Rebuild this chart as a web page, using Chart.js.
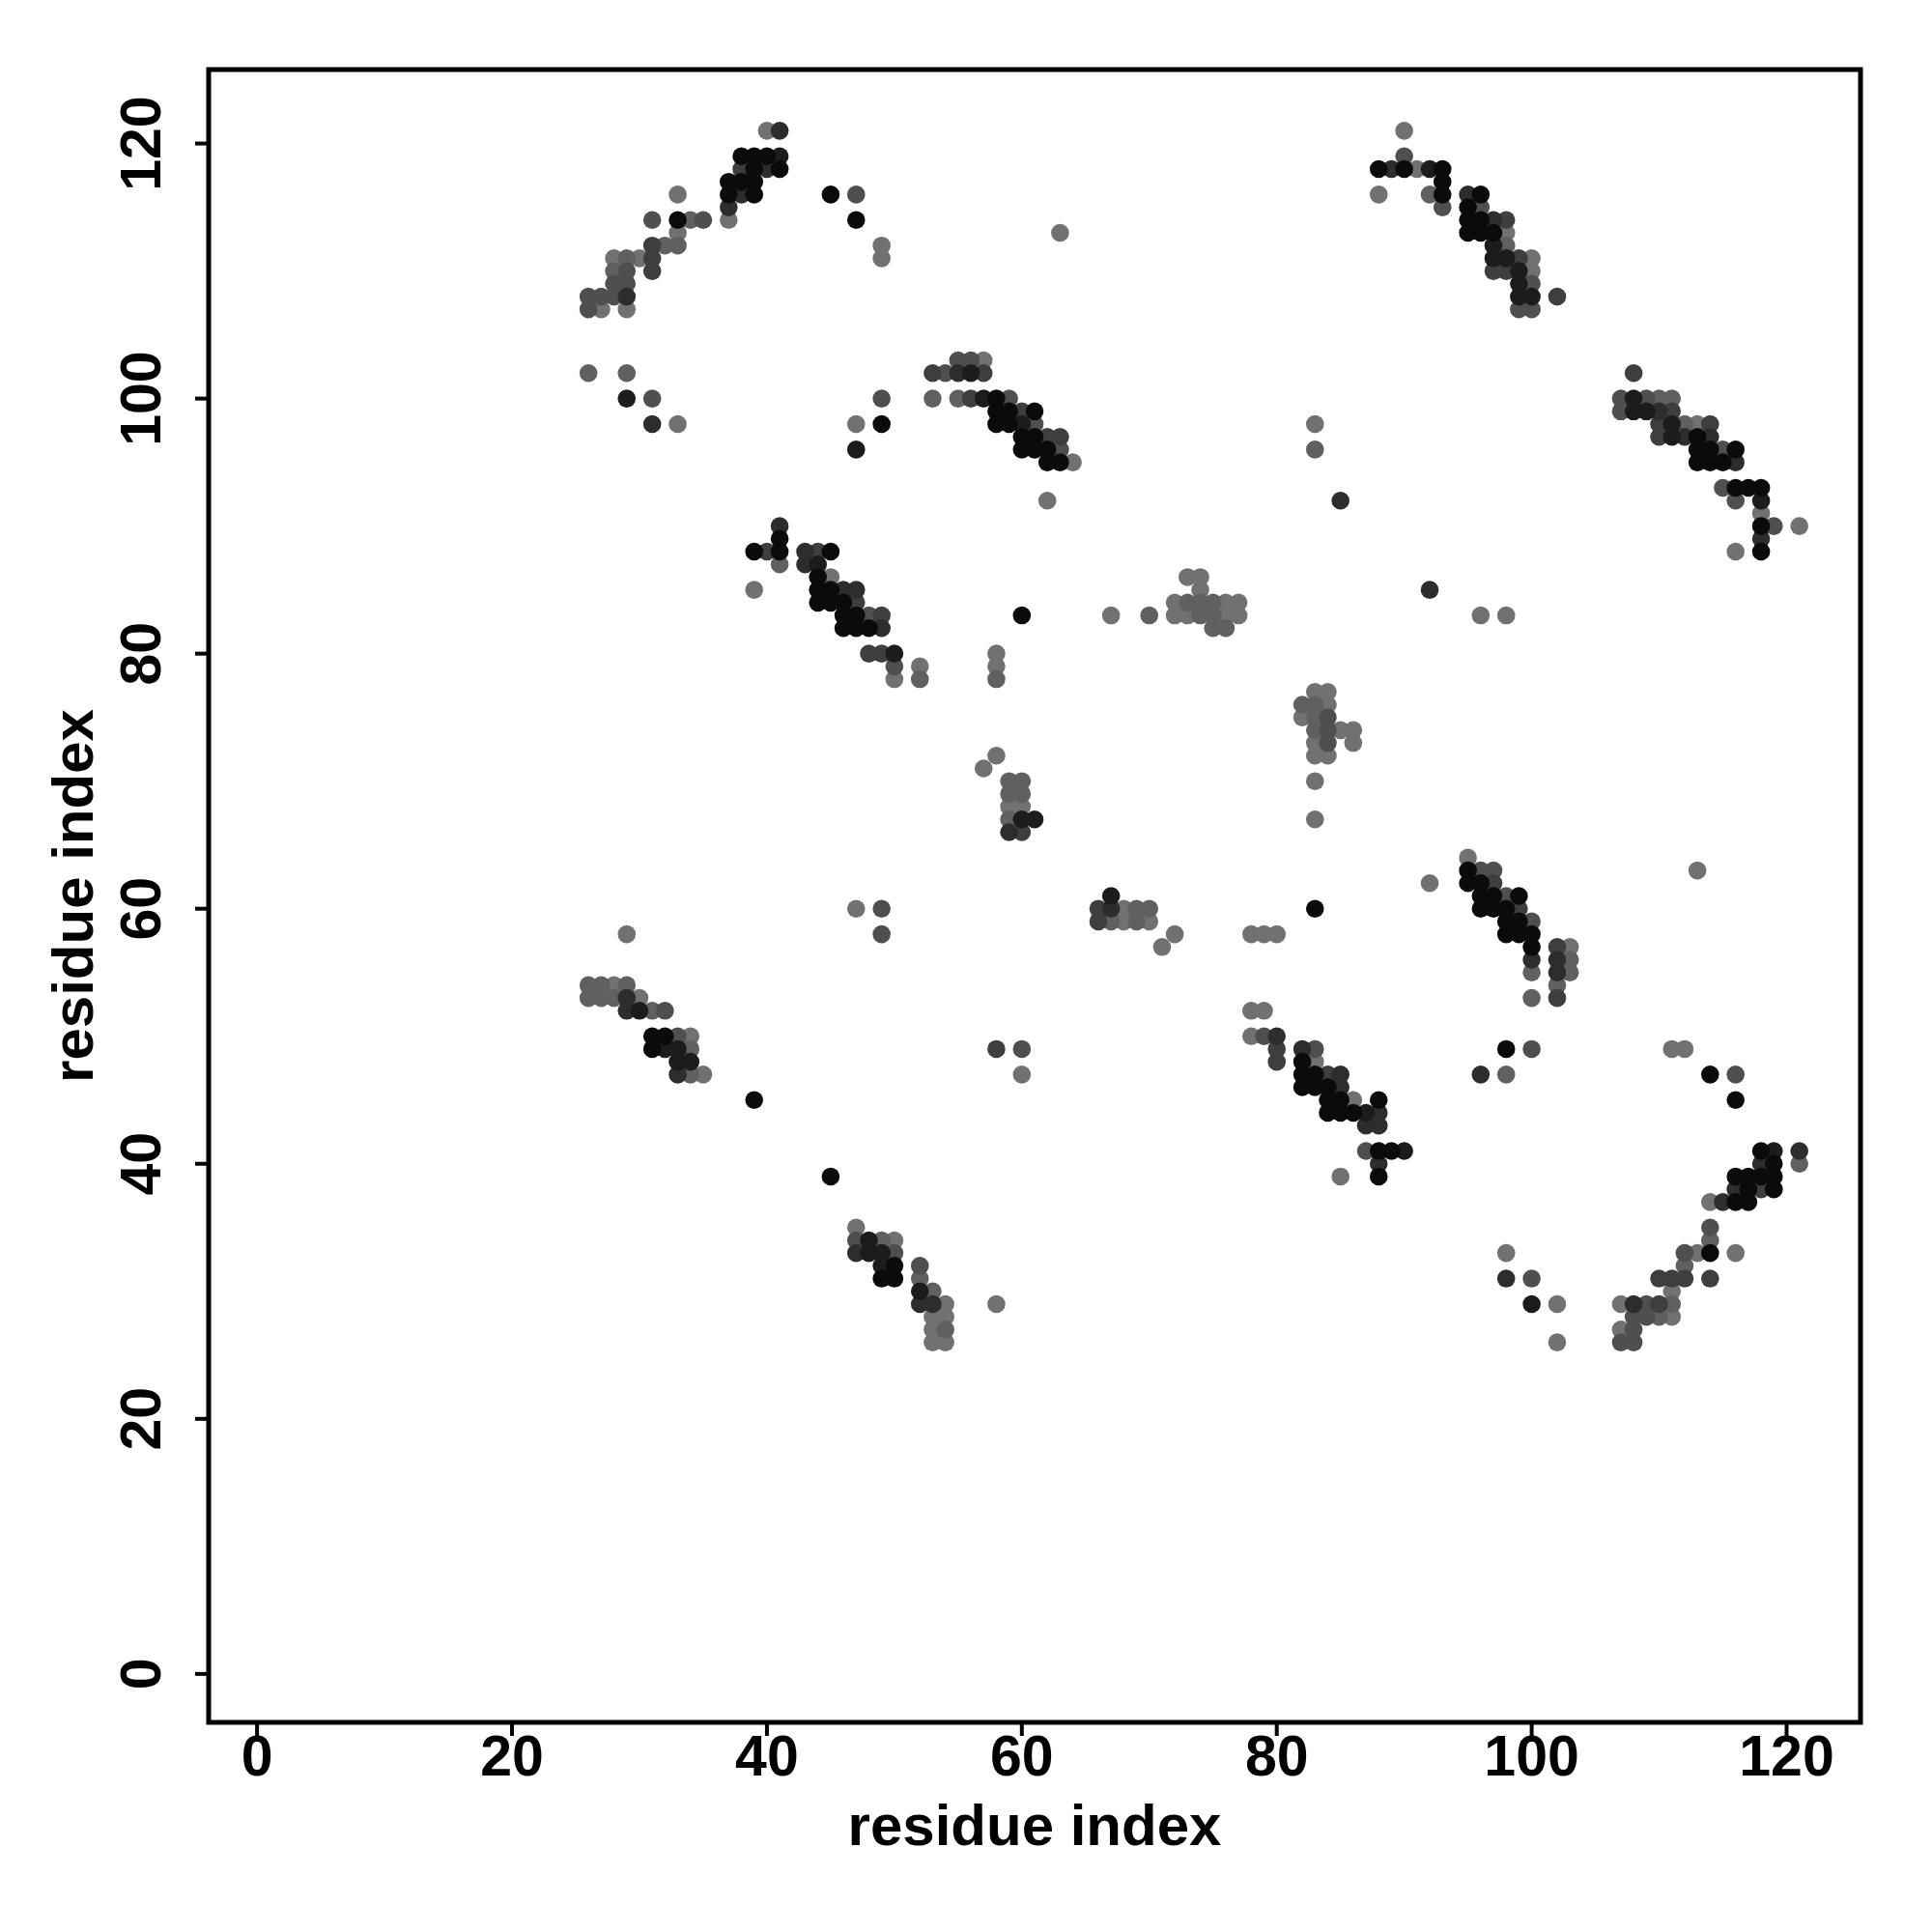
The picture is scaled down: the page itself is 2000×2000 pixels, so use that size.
<!DOCTYPE html>
<html>
<head>
<meta charset="utf-8">
<script src="https://cdn.jsdelivr.net/npm/chart.js@4.4.1/dist/chart.umd.min.js"></script>
<style>
  html, body { margin: 0; padding: 0; background: #ffffff; }
  #wrap { width: 2000px; height: 2000px; }
</style>
</head>
<body>
<div id="wrap"><canvas id="c" width="2000" height="2000"></canvas></div>
<script>
// ---- data: contacts as [residue i (x), residue j (y), shade level 1=darkest .. 7=lightest]
const xTicks = [0, 20, 40, 60, 80, 100, 120];
const yTicks = [0, 20, 40, 60, 80, 100, 120];
const xTitle = "residue index";
const yTitle = "residue index";

const clusterTopLeft = [
  [40,121,7],[41,121,3],
  [38,119,1],[39,119,1],[40,119,1],[41,119,2],
  [38,118,4],[39,118,1],[40,118,3],[41,118,1],
  [37,117,1],[38,117,1],[39,117,1],
  [37,116,1],[38,116,3],[39,116,1],[33,116,7],
  [37,115,3],
  [37,114,7],[31,114,5],[33,114,1],[34,114,6],[35,114,5],
  [33,113,7],
  [31,112,4],[32,112,6],[33,112,6],
  [28,111,7],[29,111,6],[30,111,7],[31,111,4],
  [28,110,6],[29,110,5],[31,110,4],
  [28,109,5],[29,109,5],
  [26,108,5],[27,108,5],[28,108,5],[29,108,3],
  [26,107,5],[27,107,7],[29,107,7],
  [26,102,6],[29,102,6],
  [29,100,2],[31,100,5],
  [31,98,3],[33,98,7]
];

const clusterUpperMid = [
  [45,116,1],[47,116,5],[47,114,1],[49,112,7],[49,111,7],[63,113,7],
  [55,103,5],[56,103,5],[57,103,7],
  [53,102,4],[54,102,5],[55,102,3],[56,102,2],[57,102,4],
  [49,100,5],[53,100,6],[55,100,6],[56,100,4],[57,100,2],[58,100,1],[59,100,5],
  [58,99,1],[59,99,1],[60,99,4],[61,99,1],
  [47,98,7],[49,98,1],[58,98,1],[59,98,1],[60,98,2],[61,98,5],
  [60,97,1],[61,97,1],[62,97,4],[63,97,4],
  [47,96,2],[60,96,1],[61,96,1],[62,96,1],[63,96,5],
  [62,95,1],[63,95,1],[64,95,7],
  [62,92,7]
];

const clusterTopRight = [
  [90,121,7],[90,119,5],
  [88,118,1],[89,118,3],[90,118,1],[91,118,7],[92,118,2],[93,118,1],
  [93,117,1],
  [88,116,7],[92,116,6],[93,116,1],[95,116,3],[96,116,1],
  [93,115,5],[95,115,1],[96,115,5],
  [95,114,1],[96,114,1],[97,114,3],[98,114,4],
  [95,113,1],[96,113,1],[97,113,1],[98,113,7],
  [97,112,2],[98,112,6],
  [97,111,2],[98,111,2],[99,111,4],[100,111,7],
  [97,110,4],[98,110,4],[99,110,2],[100,110,7],
  [99,109,2],[100,109,5],
  [99,108,2],[100,108,2],[102,108,4],
  [99,107,5],[100,107,5]
];

const clusterRightUpper = [
  [108,102,4],
  [107,100,5],[108,100,2],[109,100,5],[110,100,6],[111,100,6],
  [107,99,5],[108,99,2],[109,99,2],[110,99,3],[111,99,4],
  [110,98,4],[111,98,2],[112,98,6],[113,98,7],[114,98,4],
  [110,97,4],[111,97,2],[112,97,3],[113,97,1],[114,97,3],
  [113,96,1],[114,96,1],[115,96,5],[116,96,1],
  [113,95,1],[114,95,1],[115,95,1],[116,95,3],
  [115,93,5],[116,93,1],[117,93,1],[118,93,1],
  [116,92,5],[118,92,2],
  [118,91,7],
  [118,90,1],[119,90,5],[121,90,7],
  [118,89,3],
  [116,88,7],[118,88,1]
];

const clusterLeftMid = [
  [41,90,3],[41,89,1],
  [39,88,1],[40,88,4],[41,88,1],[43,88,3],[44,88,4],[45,88,1],
  [41,87,6],[43,87,3],[44,87,2],
  [44,86,1],[45,86,7],
  [39,85,7],[44,85,1],[45,85,1],[46,85,3],[47,85,3],
  [44,84,1],[45,84,1],[46,84,1],[47,84,4],
  [46,83,1],[47,83,1],[48,83,5],[49,83,4],[60,83,1],
  [46,82,1],[47,82,1],[48,82,1],[49,82,3],
  [48,80,4],[49,80,4],[50,80,2],[58,80,7],
  [50,79,5],[52,79,7],[58,79,7],
  [50,78,7],[52,78,6],[58,78,6],
  [58,72,7],[57,71,7],
  [59,70,6],[60,70,6],
  [59,69,6],[60,69,6],
  [59,68,7],[60,68,7],
  [59,67,6],[60,67,2],[61,67,2],
  [59,66,3],[60,66,4]
];

const clusterCentre = [
  [73,86,7],[74,86,7],
  [74,85,7],
  [72,84,7],[73,84,6],[74,84,6],[75,84,6],[76,84,7],[77,84,7],
  [67,83,7],[70,83,6],[72,83,7],[73,83,7],[74,83,6],[75,83,6],[76,83,7],[77,83,7],
  [75,82,6],[76,82,6],
  [67,61,2],
  [66,60,4],[67,60,3],[68,60,7],[69,60,6],[70,60,6],
  [66,59,4],[67,59,6],[68,59,7],[69,59,6],[70,59,7],
  [72,58,7],[71,57,7],
  [83,98,7],[83,96,6],[85,92,3],[92,85,3],[96,83,7],[98,83,7],
  [83,77,7],[84,77,7],
  [82,76,6],[83,76,6],[84,76,7],
  [82,75,7],[83,75,6],[84,75,5],
  [83,74,6],[84,74,5],[85,74,7],[86,74,7],
  [83,73,7],[84,73,5],[86,73,7],
  [83,72,7],[84,72,7],
  [83,70,7],[83,67,7]
];

const clusterRightMid = [
  [92,62,7],
  [95,64,7],
  [95,63,1],[96,63,5],[97,63,5],[113,63,7],
  [95,62,1],[96,62,1],[97,62,4],
  [96,61,1],[97,61,1],[98,61,5],[99,61,1],
  [96,60,1],[97,60,1],[98,60,1],[99,60,4],
  [98,59,1],[99,59,1],[100,59,5],
  [98,58,1],[99,58,1],[100,58,1],
  [100,57,1],[102,57,4],[103,57,7],
  [100,56,3],[102,56,3],[103,56,6],
  [100,55,6],[102,55,3],[103,55,6],
  [102,54,6],
  [100,53,6],[102,53,4],
  [98,49,1],[100,49,5],[111,49,7],[112,49,7],
  [96,47,3],[98,47,6],[114,47,1],[116,47,5],
  [116,45,1]
];

const clusterLeftLower = [
  [29,58,7],
  [26,54,6],[27,54,6],[28,54,7],[29,54,6],
  [26,53,6],[27,53,6],[28,53,6],[29,53,3],[30,53,7],
  [29,52,3],[30,52,2],[31,52,6],[32,52,5],
  [31,50,1],[32,50,1],[33,50,5],[34,50,7],
  [31,49,1],[32,49,2],[33,49,2],[34,49,6],
  [33,48,2],[34,48,2],
  [33,47,3],[34,47,6],[35,47,7],
  [39,45,1],
  [47,60,7],[49,60,5],[49,58,5],
  [58,49,4],[60,49,5],[60,47,7],
  [45,39,1],
  [47,35,7],
  [47,34,5],[48,34,2],[49,34,6],[50,34,7],
  [47,33,3],[48,33,2],[49,33,2],[50,33,5],
  [49,32,2],[50,32,1],[52,32,5],
  [49,31,1],[50,31,1],[52,31,6],
  [52,30,2],[53,30,6],
  [52,29,3],[53,29,3],[54,29,7],[58,29,7],
  [53,28,7],[54,28,7],
  [53,27,7],[54,27,6],
  [53,26,7],[54,26,7]
];

const clusterLowerMid = [
  [83,60,1],
  [78,58,7],[79,58,7],[80,58,7],
  [78,52,7],[79,52,7],
  [78,50,7],[79,50,5],[80,50,3],
  [80,49,4],[82,49,3],[83,49,5],
  [80,48,4],[82,48,1],[83,48,7],
  [82,47,1],[83,47,1],[84,47,4],[85,47,3],
  [82,46,1],[83,46,1],[84,46,1],[85,46,3],
  [84,45,1],[85,45,1],[86,45,7],[88,45,1],
  [84,44,1],[85,44,1],[86,44,1],[87,44,2],[88,44,3],
  [87,43,3],[88,43,3],
  [87,41,5],[88,41,1],[89,41,1],[90,41,2],
  [88,40,3],
  [85,39,7],[88,39,1]
];

const clusterLowerRight = [
  [118,41,1],[119,41,2],[121,41,3],
  [118,40,3],[119,40,1],[121,40,6],
  [116,39,1],[117,39,1],[118,39,1],[119,39,1],
  [116,38,3],[117,38,1],[118,38,4],[119,38,1],
  [114,37,7],[115,37,3],[116,37,1],[117,37,1],
  [114,35,5],[114,34,6],
  [98,33,7],[112,33,5],[113,33,7],[114,33,1],[116,33,7],
  [112,32,6],
  [98,31,3],[100,31,5],[110,31,4],[111,31,4],[112,31,4],[114,31,4],
  [111,30,7],
  [100,29,2],[102,29,7],[107,29,7],[108,29,3],[109,29,5],[110,29,4],[111,29,6],
  [108,28,5],[109,28,5],[110,28,6],[111,28,7],
  [107,27,7],[108,27,5],
  [102,26,7],[107,26,5],[108,26,5]
];

// ---- build chart
const allContacts = [].concat(
  clusterTopLeft, clusterUpperMid, clusterTopRight, clusterRightUpper,
  clusterLeftMid, clusterCentre, clusterRightMid, clusterLeftLower,
  clusterLowerMid, clusterLowerRight
);
// lighter points first so darker ones sit on top
const ordered = allContacts.slice().sort((a, b) => b[2] - a[2]);
const points = ordered.map(c => ({ x: c[0], y: c[1] }));
const colors = ordered.map(c => { const g = 17 * c[2] - 6; return `rgb(${g},${g},${g})`; });

const TICK_FONT = 'bold 59px "Liberation Sans", Arial, Helvetica, sans-serif';
const TITLE_FONT = 'bold 60px "Liberation Sans", Arial, Helvetica, sans-serif';

const axesPlugin = {
  id: 'rAxes',
  afterDraw(chart) {
    const ctx = chart.ctx;
    const a = chart.chartArea;
    const xs = chart.scales.x, ys = chart.scales.y;
    ctx.save();
    ctx.strokeStyle = '#000';
    ctx.fillStyle = '#000';
    ctx.lineWidth = 5;
    ctx.strokeRect(a.left, a.top, a.right - a.left, a.bottom - a.top);
    ctx.lineWidth = 4;
    ctx.font = TICK_FONT;
    // x ticks
    ctx.textAlign = 'center';
    ctx.textBaseline = 'middle';
    xTicks.forEach(v => {
      const px = xs.getPixelForValue(v);
      ctx.beginPath(); ctx.moveTo(px, a.bottom); ctx.lineTo(px, a.bottom + 14); ctx.stroke();
      ctx.fillText(String(v), px, a.bottom + 39);
    });
    // y ticks (rotated labels)
    yTicks.forEach(v => {
      const py = ys.getPixelForValue(v);
      ctx.beginPath(); ctx.moveTo(a.left, py); ctx.lineTo(a.left - 14, py); ctx.stroke();
      ctx.save();
      ctx.translate(a.left - 66, py);
      ctx.rotate(-Math.PI / 2);
      ctx.fillText(String(v), 0, 0);
      ctx.restore();
    });
    // titles
    ctx.font = TITLE_FONT;
    ctx.fillText(xTitle, (a.left + a.right) / 2, a.bottom + 110);
    ctx.save();
    ctx.translate(a.left - 137, (a.top + a.bottom) / 2);
    ctx.rotate(-Math.PI / 2);
    ctx.fillText(yTitle, 0, 0);
    ctx.restore();
    ctx.restore();
  }
};

new Chart(document.getElementById('c'), {
  type: 'scatter',
  data: {
    datasets: [{
      data: points,
      pointBackgroundColor: colors,
      pointBorderWidth: 0,
      pointBorderColor: 'rgba(0,0,0,0)',
      pointRadius: 9.3,
      pointHoverRadius: 9.3
    }]
  },
  options: {
    responsive: false,
    devicePixelRatio: 1,
    animation: false,
    events: [],
    layout: { padding: { left: 216, right: 74, top: 72, bottom: 217 } },
    plugins: { legend: { display: false }, tooltip: { enabled: false } },
    scales: {
      x: { type: 'linear', min: -3.8, max: 125.8, display: false },
      y: { type: 'linear', min: -3.8, max: 125.8, display: false }
    }
  },
  plugins: [axesPlugin]
});
</script>
</body>
</html>
